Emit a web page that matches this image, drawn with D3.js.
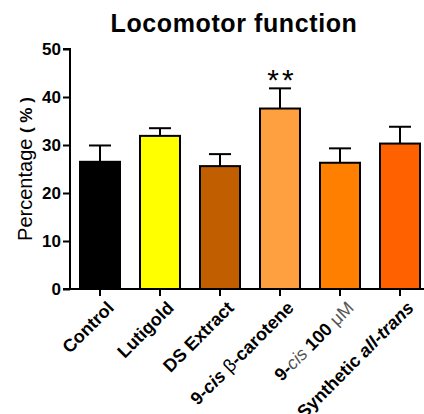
<!DOCTYPE html>
<html>
<head>
<meta charset="utf-8">
<script src="https://cdnjs.cloudflare.com/ajax/libs/d3/7.9.0/d3.min.js"></script>
<style>
  body { margin: 0; background: #fff; }
  svg { font-family: "Liberation Sans", Arial, sans-serif; }
</style>
</head>
<body>
<svg id="chart" width="424" height="414"></svg>
<script>
const CATEGORIES = ['Control', 'Lutigold', 'DS Extract', '9-cis β-carotene', '9-cis 100 μM', 'Synthetic all-trans'];
const MEANS = [26.5, 31.9, 25.6, 37.6, 26.3, 30.3];
const ERRORS = [3.4, 1.6, 2.5, 4.2, 3.0, 3.5];
const COLORS = ['#000000', '#FFFF00', '#C05E00', '#FFA040', '#FF8000', '#FF6000'];
const Y_TICKS = [0, 10, 20, 30, 40, 50];
const MARKS = ['', '', '', '**', '', ''];

// label pieces: [text, weight, style, fill]
const LABEL_PARTS = [
  [['Control', 'bold', 'normal', '#000']],
  [['Lutigold', 'bold', 'normal', '#000']],
  [['DS Extract', 'bold', 'normal', '#000']],
  [['9-', 'bold', 'normal', '#000'], ['cis', 'bold', 'italic', '#000'], [' β', 'normal', 'normal', '#000'], ['-carotene', 'bold', 'normal', '#000']],
  [['9-', 'bold', 'normal', '#000'], ['cis', 'normal', 'italic', '#555'], [' 100 ', 'bold', 'normal', '#000'], ['μM', 'normal', 'normal', '#555']],
  [['Synthetic ', 'bold', 'normal', '#000'], ['all-trans', 'bold', 'italic', '#000']]
];

const svg = d3.select('#chart');
const mLeft = 70, mRight = 430, mTop = 49, mBottom = 289;

const x = d3.scaleBand().domain(CATEGORIES).range([mLeft, mRight]).paddingInner(1 / 3).paddingOuter(1 / 6);
const y = d3.scaleLinear().domain([0, 50]).range([mBottom, mTop]);

// title
svg.append('text')
  .attr('x', 234).attr('y', 32)
  .attr('text-anchor', 'middle')
  .attr('font-size', 25).attr('font-weight', 'bold').attr('letter-spacing', 0.6)
  .text('Locomotor function');

// error bars (drawn first so bar covers lower half)
const eb = svg.append('g');
CATEGORIES.forEach((c, i) => {
  const cx = x(c) + x.bandwidth() / 2;
  eb.append('line')
    .attr('x1', cx).attr('x2', cx)
    .attr('y1', y(MEANS[i])).attr('y2', y(MEANS[i] + ERRORS[i]))
    .attr('stroke', '#000').attr('stroke-width', 2);
  eb.append('line')
    .attr('x1', cx - 11).attr('x2', cx + 11)
    .attr('y1', y(MEANS[i] + ERRORS[i])).attr('y2', y(MEANS[i] + ERRORS[i]))
    .attr('stroke', '#000').attr('stroke-width', 2);
});

// bars
svg.append('g').selectAll('rect').data(CATEGORIES).join('rect')
  .attr('x', d => x(d))
  .attr('y', (d, i) => y(MEANS[i]))
  .attr('width', x.bandwidth())
  .attr('height', (d, i) => y(0) - y(MEANS[i]))
  .attr('fill', (d, i) => COLORS[i])
  .attr('stroke', '#000').attr('stroke-width', 2);

// significance marks
svg.append('g').selectAll('text').data(CATEGORIES).join('text')
  .attr('x', d => x(d) + x.bandwidth() / 2 + 2)
  .attr('y', (d, i) => y(MEANS[i] + ERRORS[i]) + 2)
  .attr('text-anchor', 'middle')
  .attr('font-size', 30).attr('letter-spacing', 3)
  .text((d, i) => MARKS[i]);

// y axis
const yAxis = svg.append('g')
  .attr('transform', `translate(${mLeft},0)`)
  .call(d3.axisLeft(y).tickValues(Y_TICKS).tickSize(7).tickPadding(2));
yAxis.select('.domain').attr('stroke-width', 2).attr('d', `M-7,${mTop}H0V${mBottom + 1}`);
yAxis.selectAll('.tick line').attr('stroke-width', 2);
yAxis.selectAll('.tick text')
  .attr('font-size', 17).attr('font-weight', 'bold')
  .attr('font-family', '"Liberation Sans", Arial, sans-serif').attr('fill', '#000');

// x axis
const xAxis = svg.append('g')
  .attr('transform', `translate(0,${mBottom})`)
  .call(d3.axisBottom(x).tickSize(7).tickFormat(''));
xAxis.select('.domain').attr('stroke-width', 2).attr('d', `M${mLeft - 7},0H${mRight}`);
xAxis.selectAll('.tick line').attr('stroke-width', 2);

// x labels, rotated
CATEGORIES.forEach((c, i) => {
  const cx = x(c) + x.bandwidth() / 2 + 6;
  const t = svg.append('text')
    .attr('transform', `translate(${cx},${mBottom + 11}) rotate(-45)`)
    .attr('text-anchor', 'end')
    .attr('dy', '0.7em')
    .attr('font-size', 18);
  LABEL_PARTS[i].forEach(p => {
    t.append('tspan')
      .attr('font-weight', p[1]).attr('font-style', p[2]).attr('fill', p[3])
      .text(p[0]);
  });
});

// y label
const yl = svg.append('text')
  .attr('transform', `translate(32,${(mTop + mBottom) / 2}) rotate(-90)`)
  .attr('text-anchor', 'middle')
  .attr('font-size', 20);
yl.append('tspan').text('Percentage ');
yl.append('tspan').attr('font-weight', 'bold').attr('font-size', 17).text('( % )');
</script>
</body>
</html>
